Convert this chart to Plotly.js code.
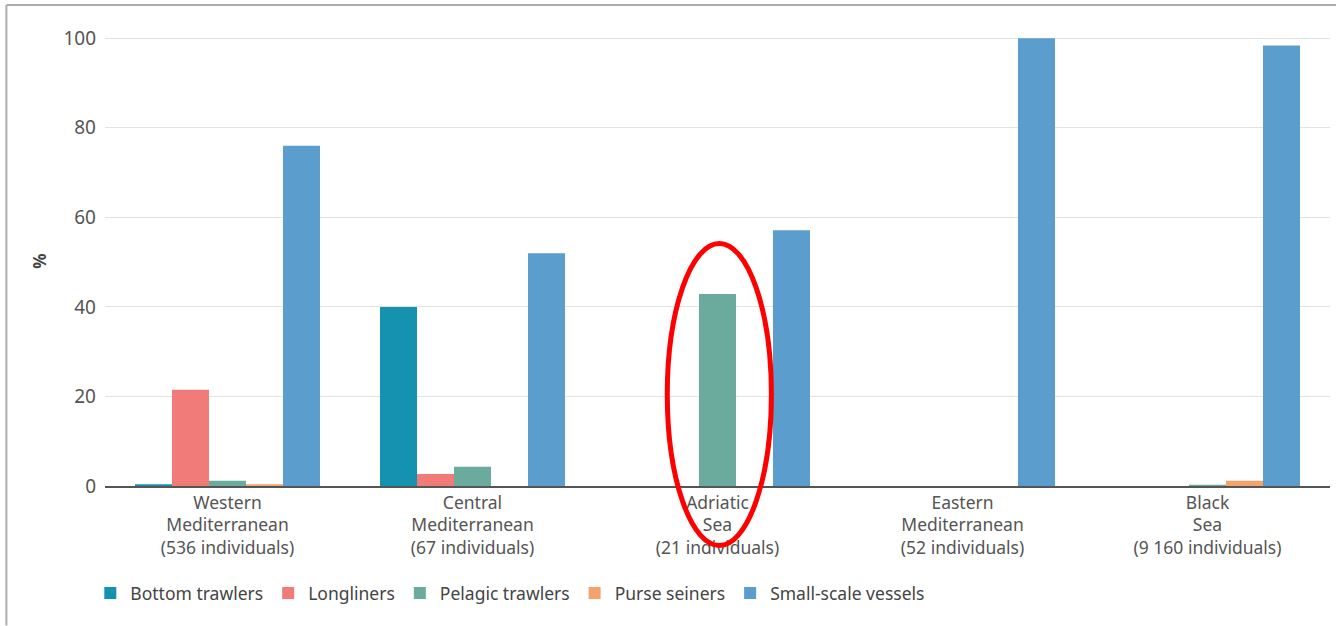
<!DOCTYPE html>
<html>
<head>
<meta charset="utf-8">
<script src="https://cdn.plot.ly/plotly-3.0.1.min.js"></script>
<style>
  html, body { margin: 0; padding: 0; background: #fff; }
  #chart { width: 1336px; height: 626px; }
</style>
</head>
<body>
<div id="chart"></div>
<script>
const categories = [
  "Western<br>Mediterranean<br>(536 individuals)",
  "Central<br>Mediterranean<br>(67 individuals)",
  "Adriatic<br>Sea<br>(21 individuals)",
  "Eastern<br>Mediterranean<br>(52 individuals)",
  "Black<br>Sea<br>(9 160 individuals)"
];
const seriesNames = ["Bottom trawlers", "Longliners", "Pelagic trawlers", "Purse seiners", "Small-scale vessels"];
const bottomTrawlers = [0.4, 40, 0, 0, 0];
const longliners = [21.5, 2.7, 0, 0, 0];
const pelagicTrawlers = [1.2, 4.3, 42.9, 0, 0.3];
const purseSeiners = [0.4, 0, 0, 0, 1.2];
const smallScale = [76, 52, 57.1, 100, 98.4];
const seriesColors = ["#1592b0", "#f07b78", "#6aab9d", "#f5a36c", "#5b9dcd"];
const yTicks = [0, 20, 40, 60, 80, 100];

const seriesValues = [bottomTrawlers, longliners, pelagicTrawlers, purseSeiners, smallScale];
const traces = seriesValues.map((vals, i) => ({
  type: "bar",
  name: seriesNames[i],
  x: categories,
  y: vals,
  marker: { color: seriesColors[i], line: { width: 0 } },
  hoverinfo: "x+y+name"
}));

const font = "Noto Sans, Open Sans, sans-serif";
const layout = {
  width: 1336,
  height: 626,
  margin: { l: 105, r: 6, t: 36, b: 140 },
  paper_bgcolor: "#ffffff",
  plot_bgcolor: "#ffffff",
  barmode: "group",
  bargap: 0.245,
  bargroupgap: 0,
  font: { family: font, color: "#555" },
  xaxis: {
    type: "category",
    tickfont: { size: 17.5, color: "#555", family: font },
    showgrid: false,
    showline: true,
    linecolor: "#555",
    linewidth: 1.5,
    ticks: "",
    zeroline: false
  },
  yaxis: {
    range: [0, 100.5],
    tickvals: yTicks,
    tickfont: { size: 19, color: "#555", family: font },
    showgrid: true,
    gridcolor: "#e3e3e3",
    gridwidth: 1,
    zeroline: false,
    showline: false,
    ticks: "",
    ticklabelstandoff: 8,
    title: { text: "<b>%</b>", font: { size: 17, color: "#444", family: font }, standoff: 12 }
  },
  showlegend: true,
  legend: {
    orientation: "h",
    x: -0.012,
    xanchor: "left",
    y: -0.238,
    yanchor: "middle",
    itemwidth: 30,
    font: { size: 17.5, color: "#444", family: font },
    traceorder: "normal",
    itemclick: false
  },
  shapes: [
    { type: "line", xref: "paper", yref: "paper", x0: -0.0805, x1: 1.01, y0: 1.069, y1: 1.069,
      line: { color: "#a9aeab", width: 2 } },
    { type: "line", xref: "paper", yref: "paper", x0: -0.0805, x1: -0.0805, y0: 1.069, y1: -0.31,
      line: { color: "#a9aeab", width: 2 } },
    { type: "circle", xref: "paper", yref: "paper", x0: 0.459, x1: 0.544, y0: -0.132, y1: 0.539,
      line: { color: "#ff0000", width: 5 } }
  ]
};

Plotly.newPlot("chart", traces, layout, { displayModeBar: false, staticPlot: true });
</script>
</body>
</html>
